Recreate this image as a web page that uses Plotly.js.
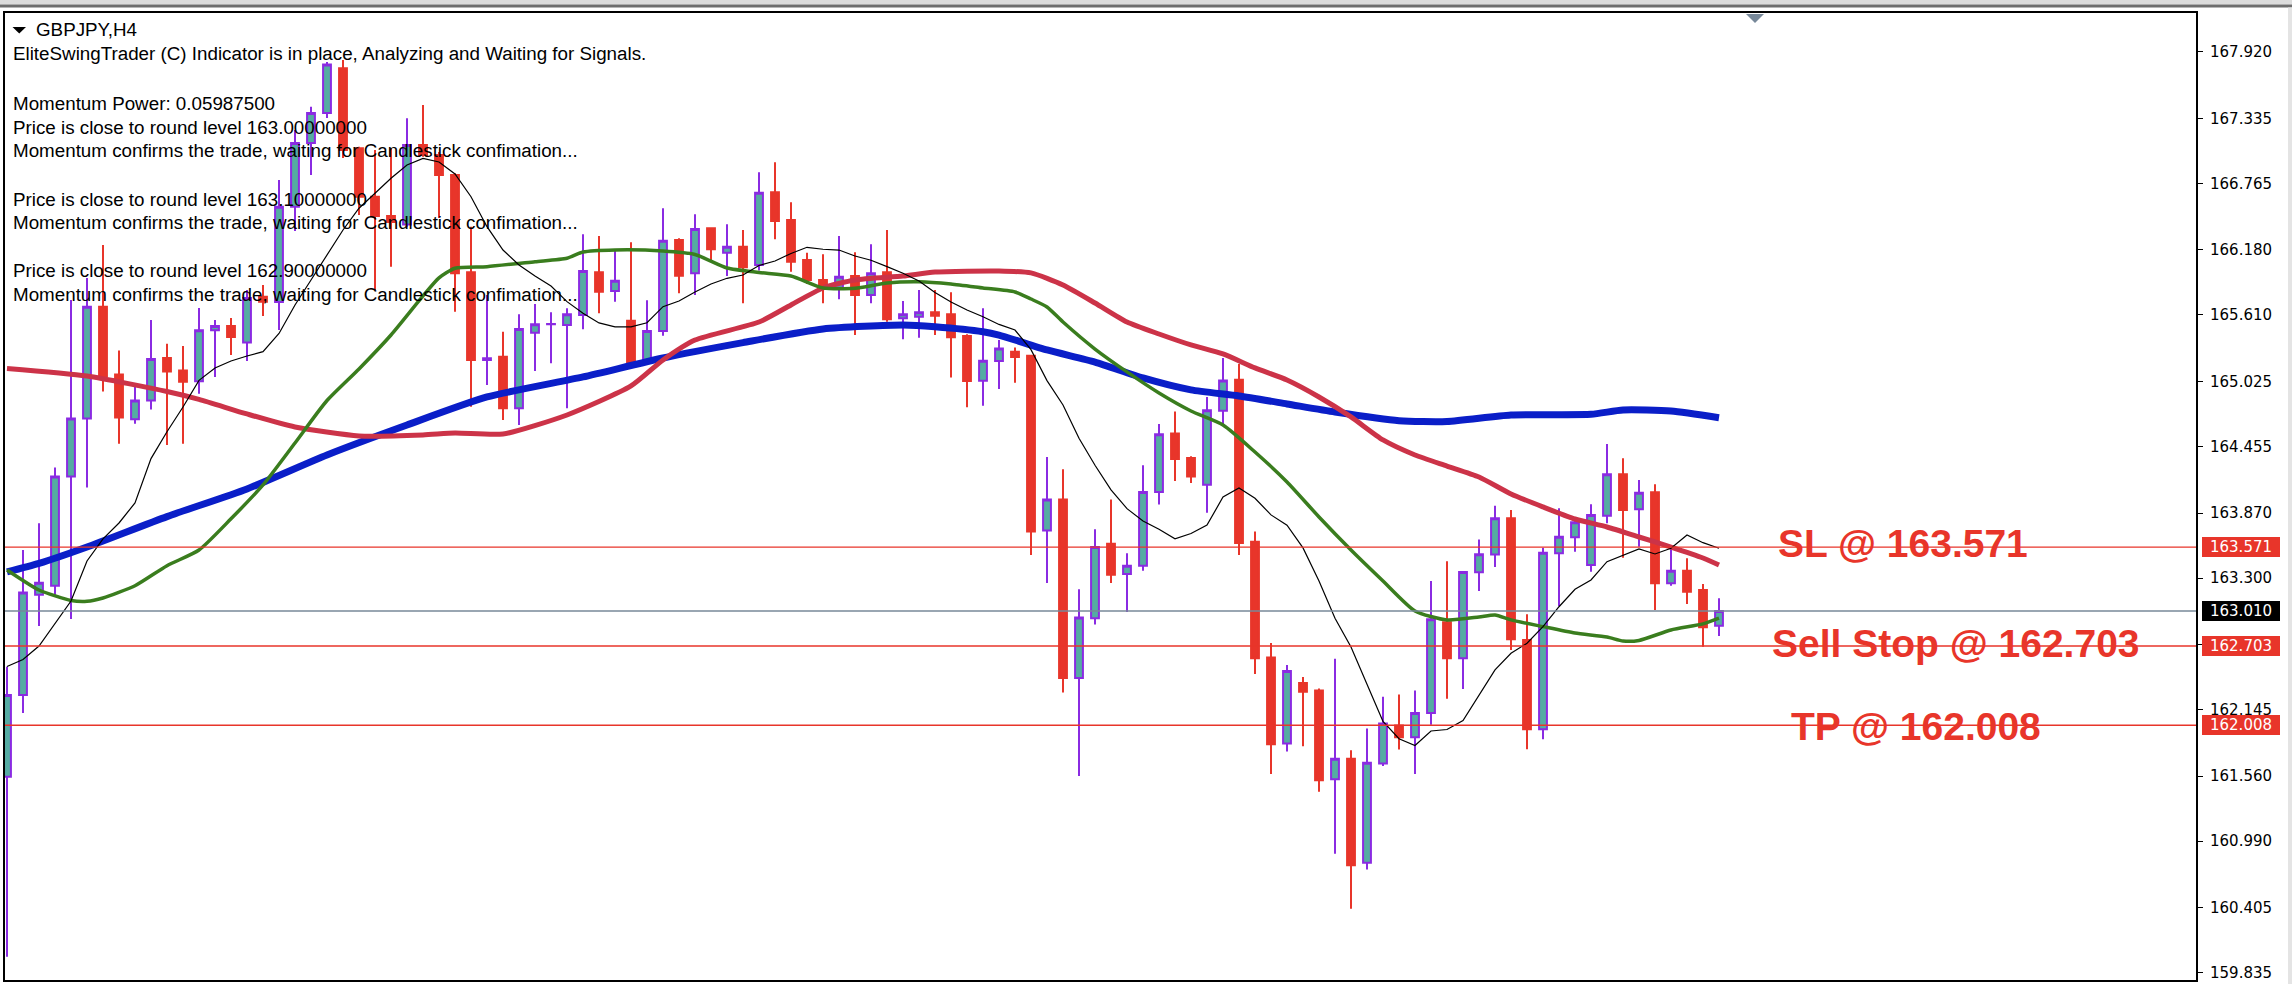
<!DOCTYPE html>
<html><head><meta charset="utf-8">
<script src="https://cdn.plot.ly/plotly-3.0.1.min.js"></script>
<style>html,body{margin:0;padding:0;background:#fff;overflow:hidden}#chart{width:2292px;height:984px}</style>
</head><body><div id="chart"></div>
<script>
// ---------------- DATA (GBPJPY, H4) ----------------
const symbolTitle = "GBPJPY,H4";
const commentLines = [
  "EliteSwingTrader (C) Indicator is in place, Analyzing and Waiting for Signals.",
  "Momentum Power: 0.05987500",
  "Price is close to round level 163.00000000",
  "Momentum confirms the trade, waiting for Candlestick confimation...",
  "Price is close to round level 163.10000000",
  "Momentum confirms the trade, waiting for Candlestick confimation...",
  "Price is close to round level 162.90000000",
  "Momentum confirms the trade, waiting for Candlestick confimation..."
];
const open = [161.556,162.273,163.154,163.232,164.192,164.701,165.681,165.086,164.693,164.858,
165.231,165.121,165.027,165.474,165.512,165.368,165.770,165.723,166.560,167.119,
167.382,167.774,167.072,166.647,166.478,166.403,167.101,167.013,166.838,165.984,
165.214,165.243,164.790,165.454,165.527,165.521,165.609,165.984,165.820,165.559,
165.214,165.468,166.267,165.975,166.370,166.156,166.208,166.048,166.686,166.443,
166.092,165.916,165.849,165.951,165.784,165.984,165.580,165.594,165.633,165.615,
165.425,165.032,165.205,165.287,165.251,163.716,163.989,162.422,162.947,163.600,
163.335,163.408,164.054,164.569,164.354,164.119,164.769,165.040,163.619,162.603,
161.848,162.379,162.313,161.533,161.714,160.800,161.671,162.005,161.903,162.114,
162.911,162.595,163.350,163.507,163.824,162.756,161.972,163.517,163.657,163.414,
163.847,164.211,163.903,164.053,163.254,163.364,163.195,162.882];
const high = [162.522,163.546,163.780,164.270,165.741,165.934,166.223,165.297,164.994,165.565,
165.356,165.337,165.670,165.565,165.583,165.828,165.872,166.794,167.233,167.437,
167.830,167.847,167.085,167.057,167.072,167.336,167.452,167.040,166.853,166.384,
165.785,165.462,165.615,165.705,165.633,165.668,166.317,166.302,166.173,166.247,
165.738,166.546,166.282,166.493,166.380,166.405,166.355,166.862,166.949,166.598,
166.156,166.142,166.302,166.159,166.230,166.355,165.732,165.828,165.828,165.808,
165.440,165.668,165.389,165.324,165.260,164.362,164.254,163.201,163.728,163.989,
163.517,164.290,164.652,164.761,164.369,164.889,165.232,165.179,163.709,162.730,
162.537,162.432,162.331,162.592,161.787,161.979,162.258,162.277,162.313,163.274,
163.448,163.360,163.639,163.935,163.897,162.982,163.566,163.912,163.800,163.947,
164.477,164.351,164.161,164.123,163.561,163.473,163.248,163.122];
const low = [159.976,162.115,162.879,163.154,162.940,164.094,164.937,164.478,164.654,164.779,
164.468,164.478,164.917,165.065,165.258,165.205,165.600,165.477,166.346,166.838,
167.338,166.987,166.487,165.828,166.033,166.384,166.998,166.460,165.638,164.804,
164.994,164.687,164.643,165.117,165.185,164.790,165.483,165.624,165.726,165.170,
165.185,165.427,165.799,165.784,166.077,165.951,165.712,166.000,166.273,165.989,
165.880,165.712,165.747,165.433,165.712,165.550,165.396,165.410,165.433,165.059,
164.799,164.813,164.959,165.015,163.502,163.256,162.294,161.562,162.893,163.256,
163.002,163.364,163.945,164.152,164.134,163.873,164.635,163.502,162.458,161.580,
161.776,161.823,161.424,160.880,160.397,160.742,161.650,161.794,161.580,162.012,
162.240,162.326,163.186,163.397,162.668,161.797,161.884,163.055,163.531,163.356,
163.780,163.478,163.575,163.019,163.233,163.072,162.697,162.791];
const close = [162.273,163.173,163.259,164.192,164.701,165.681,165.073,164.709,164.858,165.223,
165.113,165.023,165.474,165.512,165.416,165.758,165.726,166.560,167.119,167.382,
167.808,167.057,166.647,166.478,166.425,167.101,167.013,166.838,165.975,165.214,
165.229,164.790,165.486,165.527,165.530,165.615,165.995,165.813,165.910,165.185,
165.468,166.261,165.954,166.364,166.186,166.208,166.028,166.682,166.434,166.077,
165.916,165.857,165.945,165.784,165.975,165.571,165.615,165.633,165.603,165.413,
165.030,165.208,165.315,165.240,163.709,163.989,162.422,162.954,163.572,163.328,
163.408,164.054,164.562,164.345,164.192,164.772,165.033,163.607,162.595,161.841,
162.484,162.302,161.525,161.714,160.778,161.678,162.022,161.903,162.114,162.937,
162.595,163.353,163.509,163.824,162.762,161.972,163.522,163.663,163.789,163.853,
164.211,163.897,164.049,163.254,163.364,163.180,162.868,163.010];

// moving averages: [bar index] and [value]
const maFastIdx = open.map((_, i) => i);
const maFast = [162.523,162.585,162.703,162.897,163.098,163.450,163.643,163.783,163.959,164.348,
164.584,164.801,165.035,165.144,165.205,165.249,165.287,165.447,165.697,165.916,
166.136,166.355,166.546,166.677,166.809,166.926,166.984,166.952,166.847,166.647,
166.384,166.179,166.048,165.951,165.863,165.726,165.624,165.539,165.504,165.504,
165.541,165.682,165.732,165.811,165.881,165.931,165.960,166.043,166.083,166.149,
166.203,166.186,166.179,166.127,166.089,166.033,165.975,165.907,165.806,165.723,
165.653,165.594,165.526,165.477,165.305,165.033,164.819,164.526,164.290,164.073,
163.909,163.801,163.728,163.644,163.691,163.764,164.011,164.090,164.000,163.854,
163.764,163.564,163.274,162.947,162.695,162.367,162.041,161.889,161.830,161.957,
161.970,162.049,162.269,162.493,162.639,162.727,162.873,163.048,163.201,163.283,
163.443,163.502,163.555,163.511,163.561,163.678,163.610,163.561];
const maGreenIdx = [0,2,4,5,6,8,10,12,14,16,18,20,22,24,26,27,28,30,33,35,36,38,41,43,45,47,49,51,53,55,57,59,61,63,64,65,66,68,70,72,74,76,78,80,82,84,86,88,90,92,93,94,96,98,100,101,102,104,106,107];
const maGreen = [163.371,163.195,163.103,163.095,163.125,163.232,163.408,163.546,163.820,164.117,164.485,164.858,165.135,165.433,165.776,165.934,166.019,166.033,166.077,166.107,166.162,166.180,166.171,166.140,166.021,165.982,165.951,165.846,165.843,165.890,165.901,165.881,165.846,165.811,165.749,165.679,165.547,165.310,165.109,164.924,164.766,164.643,164.406,164.143,163.836,163.546,163.274,163.011,162.932,162.958,162.976,162.932,162.873,162.817,162.782,162.747,162.752,162.844,162.897,162.947];
const maRedIdx = [0,5,10,12,15,18,22,26,28,31,35,39,41,43,47,49,51,53,56,58,62,64,66,68,70,72,74,76,78,80,82,84,86,88,90,92,94,96,98,100,102,104,106,107];
const maRed = [165.140,165.073,164.937,164.868,164.740,164.626,164.547,164.556,164.573,164.564,164.731,164.986,165.214,165.389,165.547,165.697,165.846,165.916,165.951,165.986,165.995,165.978,165.872,165.714,165.547,165.442,165.346,165.267,165.144,165.038,164.889,164.714,164.512,164.380,164.283,164.187,164.038,163.924,163.818,163.748,163.660,163.572,163.476,163.414];
const maBlueIdx = [0,2,5,10,15,20,25,30,36,41,46,51,56,58,61,62,65,68,71,74,77,80,83,87,90,94,99,101,104,107];
const maBlue = [163.353,163.428,163.572,163.839,164.082,164.380,164.643,164.889,165.065,165.231,165.366,165.486,165.521,165.506,165.462,165.433,165.302,165.196,165.056,164.951,164.898,164.828,164.757,164.681,164.674,164.731,164.737,164.775,164.766,164.707];

// price levels
const levelNames = ["SL", "Sell Stop", "TP"];
const levelPrices = [163.571, 162.703, 162.008];
const bidPrice = 163.010;
const tickValues = [167.920,167.335,166.765,166.180,165.610,165.025,164.455,163.870,163.300,162.715,162.145,161.560,160.990,160.405,159.835];

// ---------------- LAYOUT HELPERS ----------------
const W = 2292, H = 984, ML = 5, MR = 96, MT = 13, MB = 4;
const PW = W - ML - MR, PH = H - MT - MB;
const PX = px => (px - ML) / PW;
const PY = py => (H - MB - py) / PH;
const RED = '#e8352a', TEAL = '#55aca2', PURPLE = '#8a2be2';
const TXT = 'Liberation Sans, Arial, sans-serif';
const AX = 'DejaVu Sans, Verdana, sans-serif';

const traces = [
  {type:'candlestick', x: maFastIdx, open, high, low, close,
   increasing:{line:{color:PURPLE, width:2}, fillcolor:TEAL},
   decreasing:{line:{color:RED, width:2}, fillcolor:RED},
   whiskerwidth:0, hoverinfo:'skip', showlegend:false},
  {type:'scatter', mode:'lines', x:maBlueIdx, y:maBlue, line:{color:'#0a1ec8', width:7, shape:'spline', smoothing:0.6}, hoverinfo:'skip', showlegend:false},
  {type:'scatter', mode:'lines', x:maRedIdx, y:maRed, line:{color:'#cc3348', width:5, shape:'spline', smoothing:0.6}, hoverinfo:'skip', showlegend:false},
  {type:'scatter', mode:'lines', x:maGreenIdx, y:maGreen, line:{color:'#3a7d1e', width:3.5, shape:'spline', smoothing:0.6}, hoverinfo:'skip', showlegend:false},
  {type:'scatter', mode:'lines', x:maFastIdx, y:maFast, line:{color:'#000000', width:1.2}, hoverinfo:'skip', showlegend:false}
];

const shapes = [];
levelPrices.forEach(p => shapes.push({type:'line', xref:'paper', yref:'y', x0:0, x1:1, y0:p, y1:p, line:{color:RED, width:1.4}, layer:'above'}));
shapes.push({type:'line', xref:'paper', yref:'y', x0:0, x1:1, y0:bidPrice, y1:bidPrice, line:{color:'#778899', width:1.5}, layer:'above'});
// window chrome
shapes.push({type:'rect', xref:'paper', yref:'paper', x0:PX(0), x1:PX(W), y0:PY(0), y1:PY(4.5), fillcolor:'#dcdcdc', line:{width:0}, layer:'above'});
shapes.push({type:'rect', xref:'paper', yref:'paper', x0:PX(0), x1:PX(W), y0:PY(4.5), y1:PY(7.5), fillcolor:'#6e6e6e', line:{width:0}, layer:'above'});
shapes.push({type:'rect', xref:'paper', yref:'paper', x0:PX(2288), x1:PX(W), y0:PY(7.5), y1:PY(H), fillcolor:'#e4e4e4', line:{width:0}, layer:'above'});
shapes.push({type:'path', xref:'paper', yref:'paper', path:`M ${PX(1746)},${PY(14)} L ${PX(1764)},${PY(14)} L ${PX(1755)},${PY(23)} Z`, fillcolor:'#778899', line:{width:0}, layer:'above'});
shapes.push({type:'path', xref:'paper', yref:'paper', path:`M ${PX(12.5)},${PY(27)} L ${PX(26)},${PY(27)} L ${PX(19.25)},${PY(33.5)} Z`, fillcolor:'#000', line:{width:0}, layer:'above'});

const annotations = [];
annotations.push({xref:'paper', yref:'paper', x:PX(35), y:PY(29.5), xanchor:'left', yanchor:'middle', text:symbolTitle, showarrow:false, font:{family:TXT, size:18.8, color:'#000'}, borderpad:0});
const commentY = [54, 103.5, 127, 150.5, 199.5, 222.5, 270.5, 294.5];
commentLines.forEach((t, k) => annotations.push({xref:'paper', yref:'paper', x:PX(12), y:PY(commentY[k]), xanchor:'left', yanchor:'middle', text:t, showarrow:false, font:{family:TXT, size:18.8, color:'#000'}, borderpad:0}));
// big level labels
const labelLeft = [1777, 1771, 1790];
const labelShift = [4, 3, -1];
levelPrices.forEach((p, k) => annotations.push({xref:'paper', yref:'y', x:PX(labelLeft[k]), y:p, yshift:labelShift[k], xanchor:'left', yanchor:'middle', text:`${levelNames[k]} @ ${p.toFixed(3)}`, showarrow:false, font:{family:TXT, size:39, color:RED, weight:'bold'}, borderpad:0}));
// axis price boxes
const boxPrices = [levelPrices[0], bidPrice, levelPrices[1], levelPrices[2]];
const boxColors = [RED, '#000000', RED, RED];
boxPrices.forEach((p, k) => annotations.push({xref:'paper', yref:'y', x:PX(2202), y:p, xanchor:'left', yanchor:'middle', text:p.toFixed(3), showarrow:false, width:78, height:20, align:'center', bgcolor:boxColors[k], borderpad:0, borderwidth:0, font:{family:AX, size:15, color:'#ffffff'}}));

const layout = {
  width:W, height:H, margin:{l:ML, r:MR, t:MT, b:MB, pad:0},
  paper_bgcolor:'#ffffff', plot_bgcolor:'#ffffff', showlegend:false,
  xaxis:{range:[-0.125, (PW + ML - 7) / 16], showgrid:false, zeroline:false, showticklabels:false, ticks:'', showline:true, mirror:true, linecolor:'#000', linewidth:2, rangeslider:{visible:false}, fixedrange:true},
  yaxis:{side:'right', range:[159.7713, 168.2597], tickmode:'array', tickvals:tickValues, ticktext:tickValues.map(v => v.toFixed(3)),
         ticks:'outside', ticklen:5, tickwidth:1, tickcolor:'#000', ticklabelstandoff:4,
         tickfont:{family:AX, size:15, color:'#000'}, showgrid:false, zeroline:false, showline:true, mirror:true, linecolor:'#000', linewidth:2, fixedrange:true},
  shapes, annotations
};
Plotly.newPlot('chart', traces, layout, {displayModeBar:false, staticPlot:true});
</script></body></html>
